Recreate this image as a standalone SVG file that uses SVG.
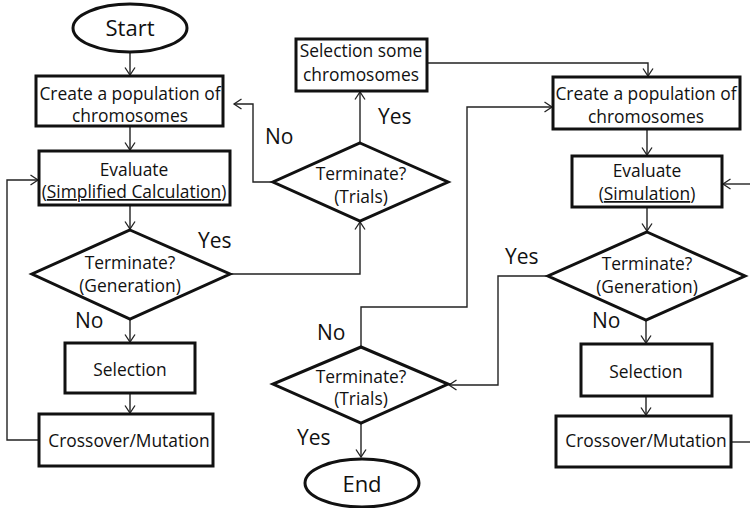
<svg xmlns="http://www.w3.org/2000/svg" width="750" height="508" viewBox="0 0 750 508">
  <defs>
    <marker id="arrow" markerUnits="userSpaceOnUse" markerWidth="12" markerHeight="12" viewBox="0 0 12 12" refX="9.5" refY="6" orient="auto">
      <path d="M2,1 L9.5,6 L2,11" fill="none" stroke="#222" stroke-width="1.3"/>
    </marker>
  </defs>
  <style>
    .shape { fill: #fff; stroke: #111; stroke-width: 3; }
    .conn { fill: none; stroke: #222; stroke-width: 1.4; }
    .t { font-family: "Open Sans", "Liberation Sans", sans-serif; font-size: 17.4px; fill: #111; text-anchor: middle; }
    .lbl { font-family: "Open Sans", "Liberation Sans", sans-serif; font-size: 21px; fill: #111; }
    .term { font-family: "Open Sans", "Liberation Sans", sans-serif; font-size: 22px; fill: #111; text-anchor: middle; }
  </style>

  <rect width="750" height="508" fill="#fff"/>

  <!-- connectors -->
  <g id="connectors">
    <path class="conn" d="M130,52 V75" marker-end="url(#arrow)"/>
    <path class="conn" d="M130,126 V150" marker-end="url(#arrow)"/>
    <path class="conn" d="M130,205 V229" marker-end="url(#arrow)"/>
    <path class="conn" d="M130,319 V342" marker-end="url(#arrow)"/>
    <path class="conn" d="M130,393 V413" marker-end="url(#arrow)"/>
    <path class="conn" d="M39,440 H7 V180 H38" marker-end="url(#arrow)"/>
    <path class="conn" d="M230,274 H360 V222" marker-end="url(#arrow)"/>
    <path class="conn" d="M360,143 V92" marker-end="url(#arrow)"/>
    <path class="conn" d="M273,182 H253 V104 H234" marker-end="url(#arrow)"/>
    <path class="conn" d="M427,63 H648 V76" marker-end="url(#arrow)"/>
    <path class="conn" d="M361,347 V307 H467 V107 H552" marker-end="url(#arrow)"/>
    <path class="conn" d="M548,276 H498 V385 H449" marker-end="url(#arrow)"/>
    <path class="conn" d="M361,423 V457" marker-end="url(#arrow)"/>
    <path class="conn" d="M647,129 V155" marker-end="url(#arrow)"/>
    <path class="conn" d="M647,207 V231" marker-end="url(#arrow)"/>
    <path class="conn" d="M646,320 V343" marker-end="url(#arrow)"/>
    <path class="conn" d="M646,396 V415" marker-end="url(#arrow)"/>
    <path class="conn" d="M727,442 H750"/>
    <path class="conn" d="M750,184 H723" marker-end="url(#arrow)"/>
  </g>

  <!-- left column: simplified evaluation loop -->
  <g id="start">
    <ellipse class="shape" cx="130" cy="28" rx="57" ry="24"/>
    <text class="term" x="130" y="36">Start</text>
  </g>
  <g id="create-left">
    <rect class="shape" x="36" y="76" width="187" height="50"/>
    <text class="t" x="130" y="100">Create a population of</text>
    <text class="t" x="130" y="122">chromosomes</text>
  </g>
  <g id="evaluate-left">
    <rect class="shape" x="39" y="151" width="191" height="54"/>
    <text class="t" x="134" y="176">Evaluate</text>
    <text class="t" x="134" y="198">(<tspan text-decoration="underline">Simplified Calculation</tspan>)</text>
  </g>
  <g id="terminate-gen-left">
    <polygon class="shape" points="130,230 230,274 130,319 32,274"/>
    <text class="t" x="130" y="269">Terminate?</text>
    <text class="t" x="130" y="292">(Generation)</text>
  </g>
  <g id="selection-left">
    <rect class="shape" x="65" y="343" width="130" height="50"/>
    <text class="t" x="130" y="376">Selection</text>
  </g>
  <g id="crossover-left">
    <rect class="shape" x="39" y="414" width="174" height="52"/>
    <text class="t" x="129" y="447">Crossover/Mutation</text>
  </g>

  <!-- middle column: trial control -->
  <g id="select-some">
    <rect class="shape" x="296" y="39" width="131" height="52"/>
    <text class="t" x="361" y="57">Selection some</text>
    <text class="t" x="361" y="81">chromosomes</text>
  </g>
  <g id="terminate-trials-top">
    <polygon class="shape" points="360,143 448,182 360,221 273,182"/>
    <text class="t" x="361" y="180">Terminate?</text>
    <text class="t" x="361" y="203">(Trials)</text>
  </g>
  <g id="terminate-trials-bottom">
    <polygon class="shape" points="361,347 448,384 361,423 273,384"/>
    <text class="t" x="361" y="383">Terminate?</text>
    <text class="t" x="361" y="405">(Trials)</text>
  </g>
  <g id="end">
    <ellipse class="shape" cx="362" cy="483" rx="57" ry="24"/>
    <text class="term" x="362" y="492">End</text>
  </g>

  <!-- right column: simulation loop -->
  <g id="create-right">
    <rect class="shape" x="553" y="77" width="187" height="52"/>
    <text class="t" x="646" y="100">Create a population of</text>
    <text class="t" x="646" y="123">chromosomes</text>
  </g>
  <g id="evaluate-right">
    <rect class="shape" x="572" y="156" width="150" height="51"/>
    <text class="t" x="647" y="177">Evaluate</text>
    <text class="t" x="647" y="200">(<tspan text-decoration="underline">Simulation</tspan>)</text>
  </g>
  <g id="terminate-gen-right">
    <polygon class="shape" points="647,232 745,276 646,320 548,276"/>
    <text class="t" x="647" y="270">Terminate?</text>
    <text class="t" x="647" y="293">(Generation)</text>
  </g>
  <g id="selection-right">
    <rect class="shape" x="581" y="344" width="131" height="52"/>
    <text class="t" x="646" y="378">Selection</text>
  </g>
  <g id="crossover-right">
    <rect class="shape" x="556" y="416" width="175" height="51"/>
    <text class="t" x="646" y="447">Crossover/Mutation</text>
  </g>

  <!-- branch labels -->
  <g id="labels">
    <text class="lbl" x="198" y="248">Yes</text>
    <text class="lbl" x="75" y="328">No</text>
    <text class="lbl" x="378" y="124">Yes</text>
    <text class="lbl" x="265" y="144">No</text>
    <text class="lbl" x="505" y="264">Yes</text>
    <text class="lbl" x="592" y="328">No</text>
    <text class="lbl" x="317" y="340">No</text>
    <text class="lbl" x="297" y="445">Yes</text>
  </g>
</svg>
